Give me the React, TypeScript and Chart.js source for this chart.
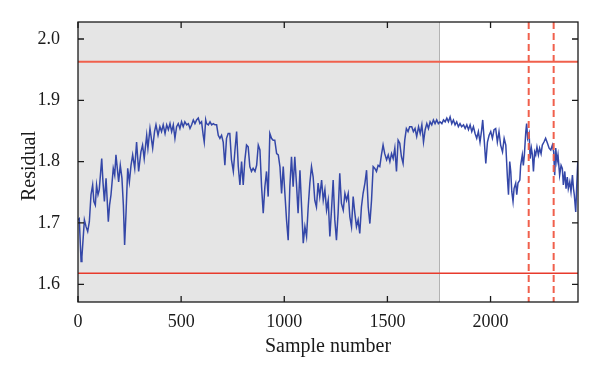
import React, { useEffect, useRef } from "react";
import { Chart, registerables } from "chart.js";

Chart.register(...registerables);

// Sample numbers (x) and residual values (y)
const SAMPLE_NO = [
  0, 6, 15, 19, 31, 39, 47, 55, 63, 71, 77, 84, 90, 97, 103, 115, 121, 128, 136, 147,
  153, 160, 171, 178, 184, 192, 197, 205, 213, 220, 226, 233, 241, 249, 257, 265, 275, 284, 294, 305,
  313, 321, 333, 339, 349, 362, 371, 378, 388,
  397, 405, 413, 422, 430, 438, 446, 454, 462, 470, 478, 486, 494, 502, 510, 518, 527, 535, 543, 551,
  559, 567, 575, 583, 591, 599, 607, 612, 619, 623, 632, 640, 648, 656, 664, 672, 680, 688, 696, 704,
  712, 720, 728,
  736, 744, 753, 761, 769, 777, 785, 793, 801, 809, 817, 825, 833, 841, 849, 858, 866, 874, 882, 890,
  898, 906, 914, 922, 930, 938, 946, 954, 963, 971, 979, 987, 995, 1003, 1011, 1019, 1027, 1035, 1043, 1051,
  1059, 1067, 1076, 1084, 1092, 1100, 1108, 1116, 1124, 1132, 1140, 1148, 1156, 1164, 1172, 1181, 1189, 1197, 1205, 1213,
  1221, 1229, 1237, 1245, 1253, 1261, 1269, 1277, 1286, 1294, 1302, 1310, 1318, 1326, 1334, 1342, 1350, 1358, 1366, 1374,
  1382, 1391, 1399, 1407, 1415, 1423, 1431, 1439, 1447, 1455, 1463, 1471, 1479, 1487, 1496, 1504, 1512, 1520, 1528, 1536,
  1544, 1552, 1560, 1568, 1576, 1584, 1592, 1600, 1608,
  1618, 1626, 1634, 1642, 1651, 1659, 1667, 1675, 1683, 1691, 1699, 1707, 1715, 1723, 1731, 1739, 1747, 1755, 1764, 1772,
  1780, 1788, 1796, 1804, 1812, 1820, 1828, 1836, 1844, 1852, 1860, 1869, 1877, 1885, 1893, 1901, 1909, 1917, 1925, 1933,
  1941, 1949, 1957, 1962, 1970, 1977, 1985, 1993, 2001, 2009, 2017,
  2025, 2033, 2041, 2049, 2058, 2066, 2074, 2082, 2087, 2093, 2098, 2103, 2109, 2114, 2122, 2127, 2133, 2142, 2146, 2154,
  2159, 2164, 2171, 2175, 2180, 2187, 2192, 2198, 2203, 2208, 2214, 2219, 2225, 2232, 2238, 2245, 2251, 2259, 2267, 2276,
  2284, 2292, 2300, 2306, 2311, 2316, 2322, 2327, 2335, 2342, 2348, 2353, 2360, 2366, 2372, 2377, 2384, 2390, 2397, 2402,
  2406, 2413, 2418, 2423,
];

const RESIDUAL = [
  1.705, 1.707, 1.637, 1.645, 1.705, 1.694, 1.686, 1.702, 1.746, 1.762, 1.735, 1.729, 1.762, 1.746, 1.754, 1.805, 1.767, 1.735, 1.773, 1.702,
  1.729, 1.746, 1.789, 1.778, 1.811, 1.784, 1.767, 1.794, 1.773, 1.729, 1.664, 1.718, 1.789, 1.767, 1.794, 1.811, 1.789, 1.832, 1.784, 1.816,
  1.827, 1.805, 1.843, 1.822, 1.854, 1.822, 1.849, 1.860, 1.843,
  1.857, 1.849, 1.860, 1.846, 1.860, 1.852, 1.862, 1.849, 1.860, 1.838, 1.857, 1.862, 1.854, 1.865, 1.857, 1.865, 1.860, 1.862, 1.854, 1.860,
  1.868, 1.862, 1.868, 1.871, 1.862, 1.865, 1.843, 1.832, 1.868, 1.862, 1.860, 1.865, 1.860, 1.862, 1.860, 1.860, 1.843, 1.838, 1.843, 1.832,
  1.794, 1.838, 1.846,
  1.846, 1.803, 1.784, 1.819, 1.849, 1.792, 1.762, 1.800, 1.762, 1.803, 1.827, 1.824, 1.792, 1.784, 1.789, 1.784, 1.794, 1.827, 1.819, 1.759,
  1.716, 1.759, 1.784, 1.743, 1.846, 1.838, 1.835, 1.835, 1.813, 1.811, 1.792, 1.748, 1.792, 1.748, 1.705, 1.672, 1.759, 1.808, 1.759, 1.808,
  1.765, 1.716, 1.786, 1.726, 1.667, 1.694, 1.678, 1.726, 1.765, 1.792, 1.775, 1.737, 1.726, 1.765, 1.743, 1.770, 1.737, 1.754, 1.721, 1.737,
  1.678, 1.721, 1.770, 1.705, 1.672, 1.716, 1.781, 1.732, 1.721, 1.748, 1.737, 1.748, 1.710, 1.694, 1.743, 1.716, 1.694, 1.705, 1.683, 1.726,
  1.748, 1.765, 1.786, 1.726, 1.699, 1.737, 1.792, 1.789, 1.784, 1.794, 1.792, 1.811, 1.827, 1.813, 1.803, 1.811, 1.800, 1.813, 1.805, 1.822,
  1.784, 1.835, 1.830, 1.808, 1.797, 1.835, 1.854, 1.849, 1.857,
  1.857, 1.849, 1.854, 1.841, 1.857, 1.846, 1.860, 1.832, 1.852, 1.862, 1.854, 1.865, 1.860, 1.868, 1.862, 1.868, 1.862, 1.865, 1.862, 1.868,
  1.865, 1.871, 1.865, 1.873, 1.862, 1.868, 1.860, 1.865, 1.857, 1.862, 1.857, 1.860, 1.854, 1.860, 1.852, 1.860, 1.849, 1.857, 1.846, 1.838,
  1.849, 1.832, 1.852, 1.868, 1.832, 1.797, 1.832, 1.843, 1.849, 1.838, 1.852,
  1.854, 1.832, 1.849, 1.827, 1.816, 1.838, 1.827, 1.773, 1.746, 1.800, 1.784, 1.751, 1.735, 1.756, 1.765, 1.746, 1.765, 1.770, 1.794, 1.811,
  1.794, 1.811, 1.849, 1.862, 1.838, 1.846, 1.805, 1.822, 1.811, 1.784, 1.816, 1.811, 1.824, 1.811, 1.822, 1.813, 1.827, 1.832, 1.838, 1.830,
  1.822, 1.819, 1.827, 1.816, 1.778, 1.822, 1.800, 1.811, 1.778, 1.794, 1.789, 1.762, 1.784, 1.756, 1.775, 1.756, 1.767, 1.751, 1.778, 1.756,
  1.746, 1.718, 1.762, 1.800,
];

const X_TICKS = [0, 500, 1000, 1500, 2000];
const Y_TICKS = [1.6, 1.7, 1.8, 1.9, 2.0];
const X_MIN = 0;
const X_MAX = 2424;
const Y_MIN = 1.5711;
const Y_MAX = 2.0277;
const UPPER_LIMIT = 1.963;
const LOWER_LIMIT = 1.618;
const TRAIN_END = 1750;
const FAULT_MARKS = [2185, 2306];

const FONT = "'Liberation Serif', 'Times New Roman', serif";

const overlay = {
  id: "overlay",
  beforeDatasetsDraw(chart: any) {
    const { ctx, chartArea: a, scales } = chart;
    const x = scales.x;
    const y = scales.y;
    ctx.save();
    const xe = x.getPixelForValue(TRAIN_END);
    ctx.fillStyle = "#e5e5e5";
    ctx.fillRect(a.left, a.top, xe - a.left, a.bottom - a.top);
    ctx.strokeStyle = "#b3b3b3";
    ctx.lineWidth = 1;
    ctx.beginPath();
    ctx.moveTo(Math.round(xe) + 0.5, a.top);
    ctx.lineTo(Math.round(xe) + 0.5, a.bottom);
    ctx.stroke();

    const yu = y.getPixelForValue(UPPER_LIMIT);
    ctx.strokeStyle = "#f0604c";
    ctx.lineWidth = 2;
    ctx.beginPath();
    ctx.moveTo(a.left, yu);
    ctx.lineTo(a.right, yu);
    ctx.stroke();

    const yl = y.getPixelForValue(LOWER_LIMIT);
    ctx.strokeStyle = "#e83a2c";
    ctx.lineWidth = 1.5;
    ctx.beginPath();
    ctx.moveTo(a.left, yl);
    ctx.lineTo(a.right, yl);
    ctx.stroke();
    ctx.restore();
  },
  afterDatasetsDraw(chart: any) {
    const { ctx, chartArea: a, scales } = chart;
    const x = scales.x;
    ctx.save();
    ctx.strokeStyle = "#f0604c";
    ctx.lineWidth = 2;
    ctx.setLineDash([7, 4]);
    FAULT_MARKS.forEach((v) => {
      const px = x.getPixelForValue(v);
      ctx.beginPath();
      ctx.moveTo(px, a.top);
      ctx.lineTo(px, a.bottom);
      ctx.stroke();
    });
    ctx.restore();
  },
  afterDraw(chart: any) {
    const { ctx, chartArea: a, scales } = chart;
    const x = scales.x;
    const y = scales.y;
    ctx.save();
    ctx.strokeStyle = "#1a1a1a";
    ctx.lineWidth = 1.3;
    ctx.strokeRect(a.left, a.top, a.right - a.left, a.bottom - a.top);
    const tl = 6;
    ctx.beginPath();
    X_TICKS.forEach((v) => {
      const px = x.getPixelForValue(v);
      ctx.moveTo(px, a.bottom);
      ctx.lineTo(px, a.bottom - tl);
      ctx.moveTo(px, a.top);
      ctx.lineTo(px, a.top + tl);
    });
    Y_TICKS.forEach((v) => {
      const py = y.getPixelForValue(v);
      ctx.moveTo(a.left, py);
      ctx.lineTo(a.left + tl, py);
      ctx.moveTo(a.right, py);
      ctx.lineTo(a.right - tl, py);
    });
    ctx.stroke();

    ctx.fillStyle = "#1a1a1a";
    ctx.font = `20px ${FONT}`;
    ctx.textAlign = "center";
    ctx.textBaseline = "alphabetic";
    ctx.fillText("Sample number", (a.left + a.right) / 2, 352);
    ctx.translate(35, 166);
    ctx.rotate(-Math.PI / 2);
    ctx.fillText("Residual", 0, 0);
    ctx.restore();
  },
};

export default function App() {
  const ref = useRef<HTMLCanvasElement | null>(null);
  useEffect(() => {
    document.body.style.margin = "0";
    const canvas = ref.current;
    if (!canvas) return;
    const chart = new Chart(canvas, {
      type: "line",
      data: {
        datasets: [
          {
            data: SAMPLE_NO.map((s, i) => ({ x: s, y: RESIDUAL[i] })),
            borderColor: "#3447a8",
            borderWidth: 1.5,
            pointRadius: 0,
            tension: 0,
            fill: false,
          },
        ],
      },
      options: {
        animation: false,
        responsive: false,
        devicePixelRatio: 1,
        layout: { padding: { top: 22, right: 22, left: 0, bottom: 0 } },
        plugins: { legend: { display: false }, tooltip: { enabled: false } },
        scales: {
          x: {
            type: "linear",
            min: X_MIN,
            max: X_MAX,
            grid: { display: false },
            border: { display: false },
            afterBuildTicks: (s: any) => {
              s.ticks = X_TICKS.map((v) => ({ value: v }));
            },
            afterFit: (s: any) => {
              s.height = 75;
            },
            ticks: {
              padding: 1,
              maxRotation: 0,
              color: "#1a1a1a",
              font: { family: FONT, size: 18 },
              callback: (v: any) => String(v),
            },
          },
          y: {
            type: "linear",
            min: Y_MIN,
            max: Y_MAX,
            grid: { display: false },
            border: { display: false },
            afterBuildTicks: (s: any) => {
              s.ticks = Y_TICKS.map((v) => ({ value: v }));
            },
            afterFit: (s: any) => {
              s.width = 78;
            },
            ticks: {
              padding: 10,
              color: "#1a1a1a",
              font: { family: FONT, size: 18 },
              callback: (v: any) => Number(v).toFixed(1),
            },
          },
        },
      },
      plugins: [overlay],
    } as any);
    return () => chart.destroy();
  }, []);
  return (
    <div style={{ width: 600, height: 377 }}>
      <canvas ref={ref} width={600} height={377} />
    </div>
  );
}
